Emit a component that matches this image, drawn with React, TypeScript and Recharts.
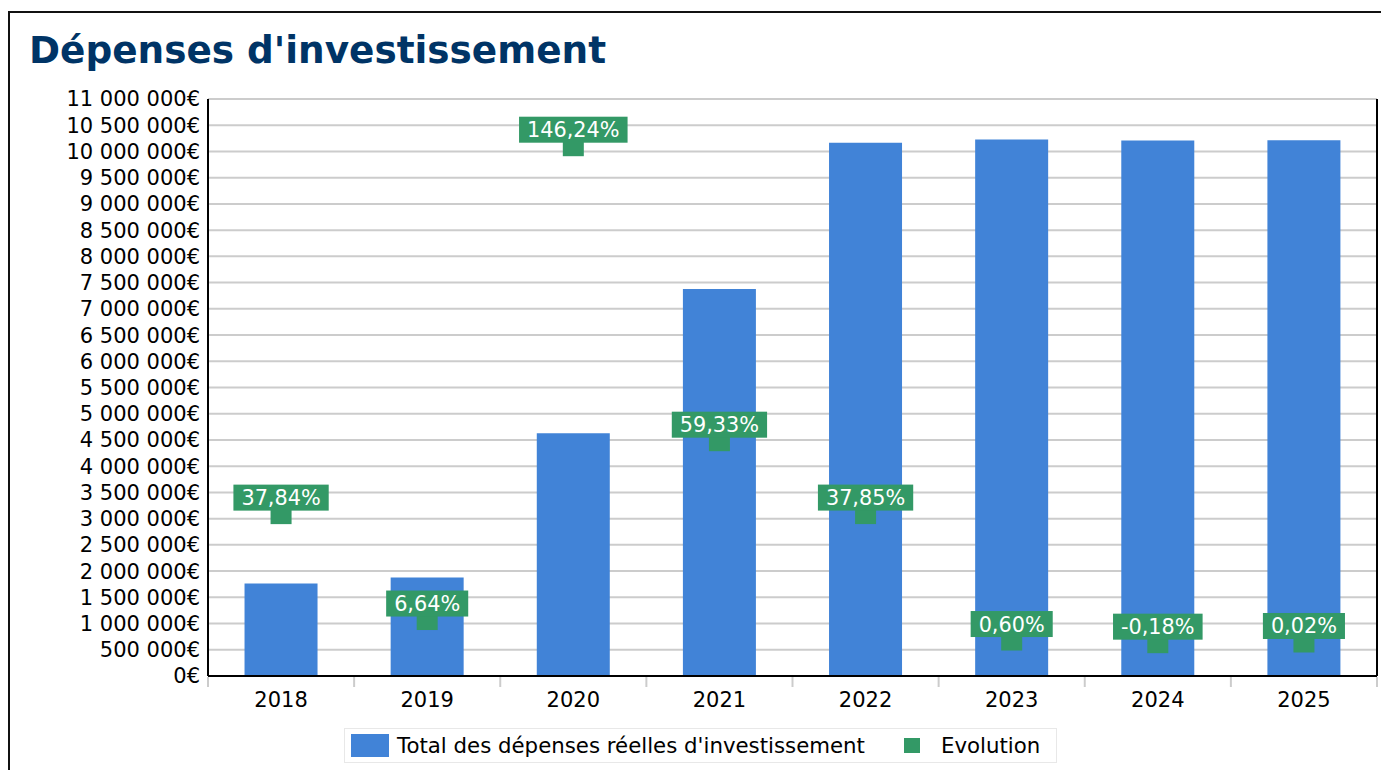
import React from 'react'
import { ComposedChart, Bar, Line, XAxis, YAxis, CartesianGrid, Legend, LabelList } from 'recharts'

const years = ['2018', '2019', '2020', '2021', '2022', '2023', '2024', '2025']
const depenses = [1763000, 1880000, 4629000, 7376000, 10168000, 10229000, 10210000, 10212000]
const evolution = [37.84, 6.64, 146.24, 59.33, 37.85, 0.6, -0.18, 0.02]
const euroTicks = [
  0, 500000, 1000000, 1500000, 2000000, 2500000, 3000000, 3500000, 4000000, 4500000, 5000000, 5500000,
  6000000, 6500000, 7000000, 7500000, 8000000, 8500000, 9000000, 9500000, 10000000, 10500000, 11000000,
]
const pctDomain = [-10, 160]

const TITLE = "Dépenses d'investissement"
const BAR_NAME = "Total des dépenses réelles d'investissement"
const LINE_NAME = 'Evolution'

const BLUE = '#4183d7'
const GREEN = '#339966'
const FONT = '"DejaVu Sans", sans-serif'
const AXIS_FONT = 21

const CHART_W = 1381
const CHART_H = 770
const MARGIN = { top: 99, right: 3, bottom: 19, left: 0 }
const Y_WIDTH = 208

const data = years.map((year, i) => ({ year, depenses: depenses[i], evolution: evolution[i] }))

const formatEuro = (v: number) => String(v).replace(/\B(?=(\d{3})+(?!\d))/g, ' ') + '€'
const formatPct = (v: number) => v.toFixed(2).replace('.', ',') + '%'

// approx DejaVu Sans advance widths, to size the label boxes
const textWidth = (s: string, size: number) => {
  let w = 0
  for (const c of s) w += c === '%' ? 0.95 : c === ',' ? 0.318 : c === '-' ? 0.361 : 0.636
  return w * size
}

const XTick = ({ x, y, payload, index }: any) => {
  const half = payload.offset ?? (CHART_W - MARGIN.left - MARGIN.right - Y_WIDTH - 1) / years.length / 2
  return (
    <g>
      <line x1={x - half} x2={x - half} y1={y + 1} y2={y + 11} stroke="#cccccc" strokeWidth={2} />
      {index === years.length - 1 && (
        <line x1={x + half} x2={x + half} y1={y + 1} y2={y + 11} stroke="#cccccc" strokeWidth={2} />
      )}
      <text x={x} y={y + 31} textAnchor="middle" fontSize={AXIS_FONT} fontFamily={FONT} fill="#000">
        {payload.value}
      </text>
    </g>
  )
}

const renderSquare = (props: any) => {
  const { cx, cy, index } = props
  return <rect key={`sq-${index}`} x={cx - 10.5} y={cy - 10.5} width={21} height={21} fill={GREEN} />
}

const renderPctLabel = (props: any) => {
  const { x, y, value, index } = props
  const label = formatPct(value)
  const w = textWidth(label, 20.8) + 16
  return (
    <g key={`lbl-${index}`}>
      <rect x={x - w / 2} y={y - 29} width={w} height={26} fill={GREEN} />
      <text x={x} y={y - 8.5} textAnchor="middle" fill="#fff" fontSize={20.8} fontFamily={FONT}>
        {label}
      </text>
    </g>
  )
}

const LegendContent = () => (
  <div
    style={{
      boxSizing: 'border-box',
      width: 713,
      height: 35,
      border: '1px solid #e8e8e8',
      display: 'flex',
      alignItems: 'center',
      paddingLeft: 6,
      fontFamily: FONT,
      fontSize: 21.3,
      color: '#000',
      whiteSpace: 'nowrap',
    }}
  >
    <span style={{ display: 'inline-block', width: 38, height: 23, background: BLUE }} />
    <span style={{ display: 'inline-block', marginLeft: 8, width: 507 }}>{BAR_NAME}</span>
    <span style={{ display: 'inline-block', width: 16, height: 15, background: GREEN }} />
    <span style={{ display: 'inline-block', marginLeft: 21 }}>{LINE_NAME}</span>
  </div>
)

export default function App() {
  return (
    <div style={{ position: 'fixed', left: 0, top: 0, width: CHART_W, height: CHART_H, overflow: 'hidden', background: '#fff' }}>
      {/* outer frame, runs off the right and bottom edge */}
      <div style={{ position: 'absolute', left: 8, top: 11, width: 1500, height: 900, border: '2px solid #111' }} />
      <div
        style={{
          position: 'absolute',
          left: 29,
          top: 32,
          fontFamily: FONT,
          fontWeight: 'bold',
          fontSize: 37.4,
          lineHeight: '37px',
          color: '#003466',
          whiteSpace: 'nowrap',
        }}
      >
        {TITLE}
      </div>
      <div style={{ position: 'absolute', left: 0, top: 0 }}>
        <ComposedChart width={CHART_W} height={CHART_H} data={data} margin={MARGIN} barCategoryGap="25%">
          <CartesianGrid yAxisId="eur" vertical={false} stroke="#cccccc" strokeWidth={2} />
          <XAxis
            dataKey="year"
            height={40}
            interval={0}
            tickLine={false}
            tickSize={0}
            tickMargin={0}
            axisLine={{ stroke: '#000', strokeWidth: 2 }}
            tick={<XTick />}
          />
          <YAxis
            yAxisId="eur"
            width={Y_WIDTH}
            domain={[0, 11000000]}
            ticks={euroTicks}
            interval={0}
            tickFormatter={formatEuro}
            tickLine={false}
            axisLine={{ stroke: '#000', strokeWidth: 2 }}
            tick={{ fontSize: AXIS_FONT, fontFamily: FONT, fill: '#000' }}
          />
          <YAxis
            yAxisId="pct"
            orientation="right"
            width={1}
            domain={pctDomain}
            tick={false}
            tickLine={false}
            axisLine={{ stroke: '#000', strokeWidth: 2 }}
          />
          <Bar yAxisId="eur" dataKey="depenses" name={BAR_NAME} fill={BLUE} isAnimationActive={false} />
          <Line
            yAxisId="pct"
            dataKey="evolution"
            name={LINE_NAME}
            stroke="none"
            dot={renderSquare}
            activeDot={false}
            isAnimationActive={false}
          >
            <LabelList dataKey="evolution" content={renderPctLabel} />
          </Line>
          <Legend
            verticalAlign="bottom"
            content={<LegendContent />}
            wrapperStyle={{ left: 344, top: 728, bottom: 'auto', width: 713, height: 35 }}
          />
        </ComposedChart>
      </div>
    </div>
  )
}
